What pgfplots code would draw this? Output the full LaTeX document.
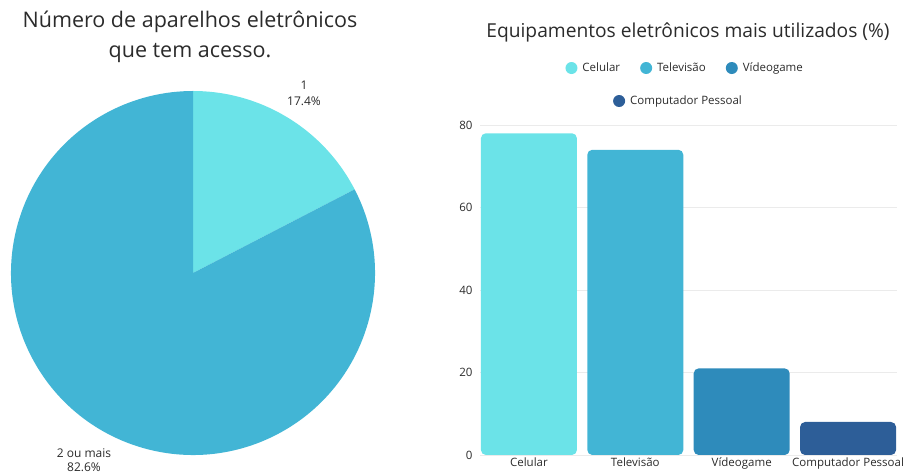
\documentclass[border=0pt]{standalone}
\usepackage{fontspec}
\setmainfont{Open Sans}
\usepackage{pgfplots}
\pgfplotsset{compat=1.18}
\definecolor{cA}{HTML}{6BE3E8}
\definecolor{cB}{HTML}{42B5D5}
\definecolor{cC}{HTML}{2E8BBB}
\definecolor{cD}{HTML}{2D5E98}
\definecolor{txt}{HTML}{2B2B2B}
\definecolor{gridc}{HTML}{EBEBEB}
\begin{document}
\begin{tikzpicture}
\useasboundingbox (0pt,0pt) rectangle (911pt,474pt);
% ---------- pie ----------
\def\pA{17.4}\def\pB{82.6}
\pgfmathsetmacro\angA{90-3.6*\pA}
\begin{axis}[at={(193pt,201pt)}, anchor=origin, x=1pt, y=1pt,
  xmin=-184, xmax=184, ymin=-184, ymax=184, hide axis, clip=false]
\fill[cA] (axis cs:0,0) -- (axis cs:0,182) arc[start angle=90, end angle=\angA, radius=182pt] -- cycle;
\fill[cB] (axis cs:0,0) -- (axis cs:{182*cos(\angA)},{182*sin(\angA)}) arc[start angle=\angA, end angle=-270, radius=182pt] -- cycle;
\end{axis}
\node[font=\fontsize{21.5}{30}\selectfont, align=center, text=txt] at (190pt,437pt) {Número de aparelhos eletrônicos\\que tem acesso.};
\node[font=\fontsize{12}{16}\selectfont, align=center, text=txt] at (304pt,381pt) {1\\17.4\%};
\node[font=\fontsize{12}{14}\selectfont, align=center, text=txt] at (84pt,14pt) {2 ou mais\\82.6\%};
% ---------- bars ----------
\node[font=\fontsize{19.2}{22}\selectfont, text=txt] at (688pt,442pt) {Equipamentos eletrônicos mais utilizados (\%)};
\begin{axis}[at={(480pt,19pt)}, anchor=south west, width=417pt, height=330pt, scale only axis,
  xmin=-0.46, xmax=3.46, ymin=0, ymax=80,
  ytick={0,20,40,60,80},
  xtick={0,1,2,3}, xticklabels={Celular,Televisão,Vídeogame,Computador Pessoal},
  /pgf/number format/assume math mode=true,
  axis line style={draw=none}, major tick length=0pt,
  ymajorgrids, grid style={draw=gridc, line width=0.8pt},
  ticklabel style={font=\fontsize{11.5}{14}\selectfont, text=txt},
  yticklabel style={xshift=-4pt},
  xticklabel style={yshift=1pt},
  ybar, bar width=96pt, bar shift=0pt,
  legend image code/.code={\fill[#1] (0pt,0pt) circle (6pt);},
  legend columns=3,
  legend style={at={(0.492,1.1727)}, anchor=center, draw=none, fill=none,
    font=\fontsize{11.5}{14}\selectfont, text=txt,
    /tikz/every odd column/.append style={column sep=3pt},
    /tikz/every even column/.append style={column sep=18pt}},
  ]
\addplot[fill=cA, draw=none, rounded corners=5pt] coordinates {(0,78)};
\addlegendentry{Celular}
\addplot[fill=cB, draw=none, rounded corners=5pt] coordinates {(1,74)};
\addlegendentry{Televisão}
\addplot[fill=cC, draw=none, rounded corners=5pt] coordinates {(2,21)};
\addlegendentry{Vídeogame}
\addplot[fill=cD, draw=none, rounded corners=5pt, forget plot] coordinates {(3,8)};
\end{axis}
\begin{axis}[at={(480pt,19pt)}, anchor=south west, width=417pt, height=330pt, scale only axis,
  xmin=0, xmax=1, ymin=0, ymax=1, hide axis,
  legend image code/.code={\fill[#1] (0pt,0pt) circle (6pt);},
  legend style={at={(0.476,1.0727)}, anchor=center, draw=none, fill=none,
    font=\fontsize{11.5}{14}\selectfont, text=txt,
    /tikz/every odd column/.append style={column sep=3pt}}]
\addlegendimage{fill=cD, draw=none}
\addlegendentry{Computador Pessoal}
\end{axis}
\end{tikzpicture}
\end{document}
